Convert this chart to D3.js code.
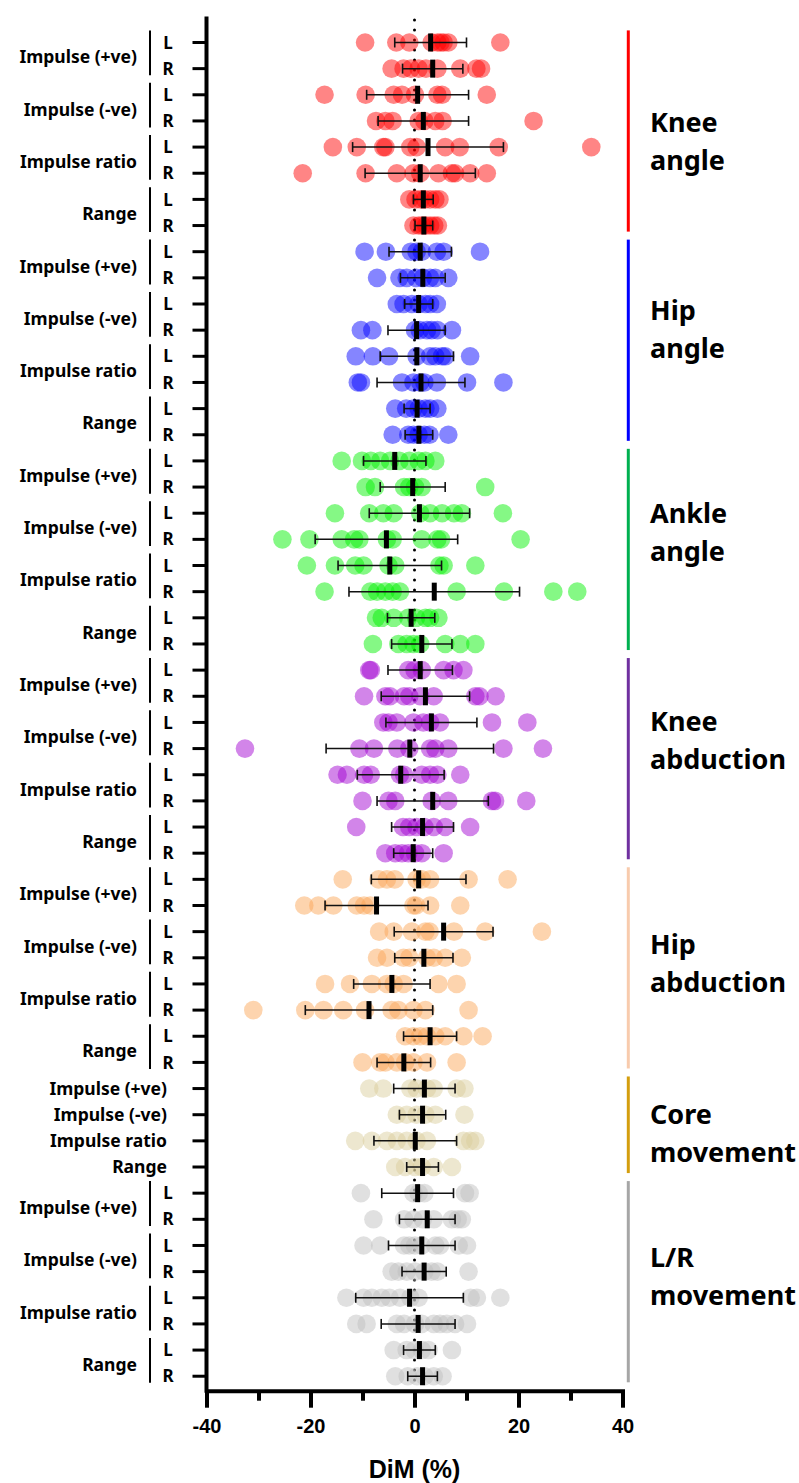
<!DOCTYPE html>
<html lang="en">
	<head>
		<meta charset="utf-8">
		<title>DiM by joint and measure</title>
		<script src="https://d3js.org/d3.v7.min.js"></script>
		<style>
			body { margin: 0; background: #fff; }
			.lab { font-family: "Noto Sans", "Open Sans", sans-serif; font-weight: 700; fill: #000; }
			.axis text { font-family: "Liberation Sans", Arial, sans-serif; font-weight: 700; font-size: 20px; fill: #000; }
		</style>
	</head>

	<body>
		<div id="vis"></div>
	</body>

	<script>
		// groups down the right hand side
		var groupNames = ["Knee angle", "Hip angle", "Ankle angle", "Knee abduction", "Hip abduction", "Core movement", "L/R movement"];
		var groupLines = [["Knee", "angle"], ["Hip", "angle"], ["Ankle", "angle"], ["Knee", "abduction"], ["Hip", "abduction"], ["Core", "movement"], ["L/R", "movement"]];
		var hasSides = [true, true, true, true, true, false, true];
		var measures = ["Impulse (+ve)", "Impulse (-ve)", "Impulse ratio", "Range"];
		var sides = ["L", "R"];
		var xTicks = [-40, -20, 0, 20, 40];
		var xMinorTicks = [-30, -10, 10, 30];

		var dotColors = ["rgb(255,0,0)", "rgb(0,0,255)", "rgb(0,240,0)", "rgb(160,0,210)", "rgb(250,165,85)", "rgb(218,205,155)", "rgb(190,190,190)"];
		var barColors = ["#ff0000", "#0000ff", "#00b050", "#7030a0", "#f8cbad", "#d49e0e", "#a6a6a6"];

		// individual DiM values (%) per row, rows go Imp+ L, Imp+ R, Imp- L, Imp- R, ratio L, ratio R, range L, range R
		var kneeAngleDots = [
			[-9.5, -3.5, -1.0, 3.3, 4.4, 5.0, 5.6, 6.5, 16.5],
			[-4.4, -2.1, -0.7, 0.8, 2.2, 4.4, 8.8, 11.9, 12.8],
			[-17.3, -9.4, -4.0, -2.4, 0.1, 4.4, 5.3, 13.9],
			[-7.4, -5.6, -4.2, 0.8, 1.9, 4.0, 5.4, 22.9],
			[-15.7, -11.1, -6.0, -5.6, -0.8, 0.4, 5.9, 8.7, 16.2, 34.0],
			[-21.5, -9.4, -3.4, -0.2, 1.1, 4.6, 7.2, 7.8, 10.7, 13.9],
			[-1.0, 0.2, 1.2, 2.0, 3.0, 4.0, 4.8],
			[-0.2, 0.8, 1.5, 2.2, 3.0, 3.8, 4.5]
		];
		var kneeAngleMean = [3.1, 3.5, 0.6, 1.7, 2.6, 1.1, 1.7, 1.8];
		var kneeAngleSD = [6.9, 5.8, 9.8, 8.7, 14.5, 10.6, 1.9, 1.7];

		var hipAngleDots = [
			[-9.6, -5.5, -0.7, 0.4, 1.4, 4.3, 5.6, 12.6],
			[-7.2, -2.9, -1.5, 0.3, 1.6, 3.0, 4.0, 6.5],
			[-3.4, -2.1, -0.5, 0.8, 2.1, 3.0, 4.3],
			[-10.3, -8.1, 0.1, 1.0, 2.4, 3.3, 4.4, 7.2],
			[-11.3, -8.0, -4.9, 0.4, 3.0, 4.0, 5.3, 5.9, 10.7],
			[-10.9, -10.3, -2.4, -0.2, 1.1, 1.9, 4.3, 10.1, 17.1],
			[-3.7, -1.6, -0.2, 0.8, 2.1, 3.0, 4.4],
			[-4.2, -1.2, -0.2, 0.8, 1.9, 2.9, 6.5]
		];
		var hipAngleMean = [1.1, 1.6, 0.8, 0.4, 0.45, 1.25, 0.5, 0.85];
		var hipAngleSD = [6.0, 4.3, 2.7, 5.5, 7.05, 8.45, 2.5, 2.65];

		var ankleAngleDots = [
			[-14.0, -10.1, -8.4, -6.6, -4.7, -2.9, -1.0, 0.8, 2.1, 4.0],
			[-9.4, -7.6, -2.0, -1.0, 0.1, 1.4, 13.6],
			[-15.3, -8.7, -6.0, -4.0, 1.1, 3.0, 5.3, 7.6, 9.1, 17.0],
			[-25.4, -20.2, -14.0, -11.6, -10.6, -5.3, -4.2, 1.4, 4.4, 5.1, 20.4],
			[-20.7, -15.3, -11.4, -9.8, -5.0, -3.7, 4.8, 5.6, 11.7],
			[-17.3, -8.5, -7.2, -5.6, -4.2, -2.8, 8.1, 17.2, 26.7, 31.3],
			[-7.4, -6.3, -4.0, -1.2, 0.3, 2.1, 3.0, 4.6],
			[-8.0, -3.1, -1.5, -0.2, 1.1, 5.9, 8.8, 11.7]
		];
		var ankleAngleMean = [-3.8, -0.35, 0.95, -5.4, -4.75, 3.8, -0.65, 1.4];
		var ankleAngleSD = [6.0, 6.25, 9.65, 13.7, 9.95, 16.4, 4.55, 5.8];

		var kneeAbdDots = [
			[-8.7, -8.4, -1.2, 0.0, 1.4, 5.6, 7.5, 9.4],
			[-9.7, -5.6, -4.7, -2.0, -1.0, 1.1, 3.7, 11.7, 12.5, 15.6],
			[-6.0, -5.0, -3.4, -0.2, 1.7, 3.0, 4.9, 14.9, 21.7],
			[-32.6, -10.6, -7.8, -3.3, -1.0, 3.0, 4.0, 6.5, 17.1, 24.7],
			[-14.8, -13.0, -9.7, -8.4, -2.8, -2.0, 1.4, 3.0, 4.4, 8.8],
			[-10.0, -5.0, -3.7, 3.3, 6.5, 14.9, 15.5, 21.5],
			[-11.2, -2.2, -1.0, 0.4, 1.9, 3.7, 5.9, 10.7],
			[-5.6, -3.7, -2.4, -1.2, 0.1, 1.4, 5.6]
		];
		var kneeAbdMean = [1.1, 2.1, 3.25, -0.9, -2.65, 3.5, 1.55, -0.25];
		var kneeAbdSD = [6.2, 8.5, 8.75, 16.1, 8.35, 10.7, 5.95, 3.75];

		var hipAbdDots = [
			[-13.8, -6.9, -5.3, -3.8, 0.4, 1.4, 3.0, 10.4, 17.9],
			[-21.2, -18.5, -15.6, -11.1, -9.7, -8.5, -0.2, 0.3, 3.0, 8.8],
			[-6.8, -4.0, -0.5, 2.1, 2.9, 7.6, 13.6, 24.5],
			[-7.2, -5.3, -2.1, -1.0, 2.4, 3.7, 5.9, 9.1],
			[-17.2, -12.4, -8.2, -5.3, -4.0, -2.1, 4.6, 8.1],
			[-31.0, -21.0, -17.5, -13.7, -9.5, -4.4, -3.1, -0.2, 2.1, 10.4],
			[-1.8, -0.2, 1.1, 2.4, 4.0, 5.9, 9.4, 13.1],
			[-10.0, -6.6, -5.6, -3.4, -1.8, -0.2, 2.4, 8.1]
		];
		var hipAbdMean = [0.8, -7.3, 5.6, 1.8, -4.35, -8.75, 3.0, -2.05];
		var hipAbdSD = [9.1, 9.9, 9.5, 5.6, 7.35, 12.25, 5.1, 5.15];

		// core has one row per measure
		var coreDots = [
			[-8.7, -6.0, -0.8, 0.4, 2.4, 3.7, 8.1, 9.6],
			[-3.4, -1.5, 0.4, 2.1, 4.0, 9.6],
			[-11.4, -8.2, -5.3, -3.4, -1.5, 0.4, 2.4, 9.4, 10.7, 11.7],
			[-3.7, -1.8, 0.1, 1.4, 3.7, 7.2]
		];
		var coreMean = [1.9, 1.55, 0.15, 1.55];
		var coreSD = [5.9, 4.45, 7.95, 3.05];

		var lrDots = [
			[-10.3, -0.2, 0.8, 1.9, 9.7, 10.6],
			[-7.9, -2.0, -0.2, 1.6, 3.7, 7.2, 8.3, 9.1],
			[-9.8, -6.6, -2.0, -1.0, 0.1, 1.4, 4.0, 4.9, 8.5, 10.1],
			[-4.4, -3.1, -1.5, 0.1, 1.9, 3.3, 4.4, 10.4],
			[-13.1, -9.8, -8.2, -6.3, -4.8, -2.8, -0.8, 0.8, 10.8, 12.0, 16.5],
			[-11.2, -9.2, -3.4, -2.0, 0.1, 1.4, 3.7, 4.9, 6.2, 7.8, 10.1],
			[-4.0, -1.5, 0.0, 1.4, 2.7, 7.2],
			[-3.7, -1.3, 0.5, 1.9, 3.7, 5.4]
		];
		var lrMean = [0.6, 2.45, 1.4, 1.85, -0.95, 0.7, 0.95, 1.55];
		var lrSD = [6.9, 5.35, 6.4, 4.25, 10.35, 7.1, 3.05, 2.85];

		var allDots = [kneeAngleDots, hipAngleDots, ankleAngleDots, kneeAbdDots, hipAbdDots, coreDots, lrDots];
		var allMean = [kneeAngleMean, hipAngleMean, ankleAngleMean, kneeAbdMean, hipAbdMean, coreMean, lrMean];
		var allSD = [kneeAngleSD, hipAngleSD, ankleAngleSD, kneeAbdSD, hipAbdSD, coreSD, lrSD];

		// group label nudge (px) so the right labels sit like the original
		var labelNudge = [7, -14, -20, -21, -8, 5, -8];

		// build the row list
		var rows = [];
		groupNames.forEach(function(g, gi){
			var k = 0;
			measures.forEach(function(m){
				var ss = hasSides[gi] ? sides : [""];
				ss.forEach(function(s){
					rows.push({id: g + "|" + m + "|" + s, group: gi, measure: m, side: s,
						dots: allDots[gi][k], mean: allMean[gi][k], sd: allSD[gi][k]});
					k++;
				});
			});
		});

		var width = 799, height = 1483;

		var svg = d3.select("#vis").append("svg")
			.attr("width", width)
			.attr("height", height);

		var x = d3.scaleLinear()
			.domain([-40, 40])
			.range([206.5, 622.5]);

		var y = d3.scaleBand()
			.domain(rows.map(function(d){ return d.id; }))
			.range([29.4, 1389.3]);

		var yc = function(d){ return y(d.id) + y.bandwidth() / 2; };

		// dotted zero line
		svg.append("line")
			.attr("x1", x(0)).attr("x2", x(0))
			.attr("y1", 20).attr("y2", 1388)
			.attr("stroke", "#000")
			.attr("stroke-width", 3)
			.attr("stroke-linecap", "round")
			.attr("stroke-dasharray", "0,10");

		// individual dots
		var rowG = svg.selectAll(".row")
			.data(rows)
			.enter().append("g")
			.attr("class", "row");

		rowG.selectAll("circle")
			.data(function(d){ return d.dots.map(function(v){ return {v: v, row: d}; }); })
			.enter().append("circle")
			.attr("cx", function(d){ return x(d.v); })
			.attr("cy", function(d){ return yc(d.row); })
			.attr("r", 9.3)
			.attr("fill", function(d){ return dotColors[d.row.group]; })
			.attr("fill-opacity", 0.48);

		// mean +/- sd
		rowG.append("line")
			.attr("x1", function(d){ return x(d.mean - d.sd); })
			.attr("x2", function(d){ return x(d.mean + d.sd); })
			.attr("y1", yc).attr("y2", yc)
			.attr("stroke", "#111").attr("stroke-width", 1.5);

		[-1, 1].forEach(function(sgn){
			rowG.append("line")
				.attr("x1", function(d){ return x(d.mean + sgn * d.sd); })
				.attr("x2", function(d){ return x(d.mean + sgn * d.sd); })
				.attr("y1", function(d){ return yc(d) - 5; })
				.attr("y2", function(d){ return yc(d) + 5; })
				.attr("stroke", "#111").attr("stroke-width", 1.6);
		});

		rowG.append("rect")
			.attr("x", function(d){ return x(d.mean) - 2.5; })
			.attr("y", function(d){ return yc(d) - 9; })
			.attr("width", 5)
			.attr("height", 18)
			.attr("fill", "#000");

		// axes
		var yAxis = d3.axisLeft(y).tickSize(14).tickSizeOuter(0).tickFormat("");
		var yG = svg.append("g")
			.attr("class", "y axis")
			.attr("transform", "translate(" + x(-40) + ",0)")
			.call(yAxis);
		yG.select(".domain").remove();
		yG.selectAll(".tick line").attr("stroke", "#000").attr("stroke-width", 3);
		svg.append("line")
			.attr("x1", x(-40)).attr("x2", x(-40))
			.attr("y1", 16.5).attr("y2", 1392.7)
			.attr("stroke", "#000").attr("stroke-width", 4);

		var xAxis = d3.axisBottom(x)
			.tickValues(xTicks)
			.tickFormat(function(d){ return String(d); })
			.tickSize(17).tickSizeOuter(0).tickPadding(11);
		var xG = svg.append("g")
			.attr("class", "x axis")
			.attr("transform", "translate(0,1390.7)")
			.call(xAxis);
		xG.select(".domain").attr("stroke", "#000").attr("stroke-width", 4).attr("stroke-linecap", "square");
		xG.selectAll(".tick line").attr("stroke", "#000").attr("stroke-width", 4);

		var xMinor = d3.axisBottom(x).tickValues(xMinorTicks).tickSize(10).tickSizeOuter(0).tickFormat("");
		var xmG = svg.append("g")
			.attr("transform", "translate(0,1390.7)")
			.call(xMinor);
		xmG.select(".domain").remove();
		xmG.selectAll(".tick line").attr("stroke", "#000").attr("stroke-width", 4);

		svg.append("text")
			.attr("x", x(0))
			.attr("y", 1478)
			.attr("text-anchor", "middle")
			.style("font-family", "'Liberation Sans', Arial, sans-serif")
			.style("font-weight", 700)
			.style("font-size", "25px")
			.text("DiM (%)");

		// left labels
		var sideRows = rows.filter(function(d){ return hasSides[d.group]; });
		var pairs = sideRows.filter(function(d){ return d.side === "L"; });

		svg.selectAll(".side")
			.data(sideRows)
			.enter().append("text")
			.attr("class", "lab side")
			.attr("x", 168)
			.attr("y", yc)
			.attr("dy", "0.36em")
			.attr("text-anchor", "middle")
			.style("font-size", "17px")
			.text(function(d){ return d.side; });

		svg.selectAll(".meas")
			.data(pairs)
			.enter().append("text")
			.attr("class", "lab meas")
			.attr("x", 137)
			.attr("y", function(d){ return y(d.id) + y.bandwidth() + 1.5; })
			.attr("dy", "0.36em")
			.attr("text-anchor", "end")
			.style("font-size", "17.5px")
			.text(function(d){ return d.measure; });

		svg.selectAll(".bracket")
			.data(pairs)
			.enter().append("line")
			.attr("class", "bracket")
			.attr("x1", 150).attr("x2", 150)
			.attr("y1", function(d){ return y(d.id) + 1; })
			.attr("y2", function(d){ return y(d.id) + 2 * y.bandwidth() - 6.5; })
			.attr("stroke", "#000").attr("stroke-width", 2);

		svg.selectAll(".coremeas")
			.data(rows.filter(function(d){ return !hasSides[d.group]; }))
			.enter().append("text")
			.attr("class", "lab coremeas")
			.attr("x", 167)
			.attr("y", yc)
			.attr("dy", "0.36em")
			.attr("text-anchor", "end")
			.style("font-size", "17.5px")
			.text(function(d){ return d.measure; });

		// right group bars and labels
		var groupSpan = groupNames.map(function(g, gi){
			var gr = rows.filter(function(d){ return d.group === gi; });
			return {gi: gi, top: y(gr[0].id), bottom: y(gr[gr.length - 1].id) + y.bandwidth()};
		});

		svg.selectAll(".gbar")
			.data(groupSpan)
			.enter().append("line")
			.attr("class", "gbar")
			.attr("x1", 628.3).attr("x2", 628.3)
			.attr("y1", function(d){ return d.top + 1; })
			.attr("y2", function(d){ return d.bottom - 7; })
			.attr("stroke", function(d){ return barColors[d.gi]; })
			.attr("stroke-width", 3);

		var gLab = svg.selectAll(".glab")
			.data(groupSpan)
			.enter().append("text")
			.attr("class", "lab glab")
			.style("font-size", "27px")
			.attr("text-anchor", "start");

		gLab.selectAll("tspan")
			.data(function(d){
				var mid = (d.top + d.bottom) / 2 + labelNudge[d.gi];
				return groupLines[d.gi].map(function(t, i){ return {t: t, y: mid + (i - 0.5) * 38}; });
			})
			.enter().append("tspan")
			.attr("x", 650)
			.attr("y", function(d){ return d.y; })
			.attr("dy", "0.36em")
			.text(function(d){ return d.t; });
	</script>
</html>
